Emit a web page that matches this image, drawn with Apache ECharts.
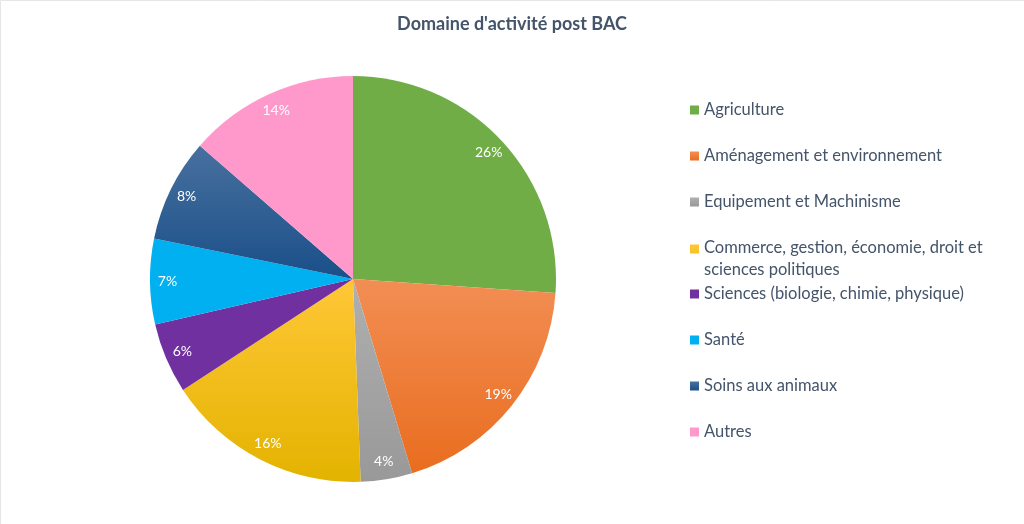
<!DOCTYPE html>
<html>
<head>
<meta charset="utf-8">
<script src="https://cdn.jsdelivr.net/npm/echarts@6/dist/echarts.min.js"></script>
<style>
html,body{margin:0;padding:0;background:#fff;}
#chart{width:1024px;height:524px;}
</style>
</head>
<body>
<div id="chart"></div>
<script>
const titleText = "Domaine d'activité post BAC";
const categories = [
  "Agriculture",
  "Aménagement et environnement",
  "Equipement et Machinisme",
  "Commerce, gestion, économie, droit et\nsciences politiques",
  "Sciences (biologie, chimie, physique)",
  "Santé",
  "Soins aux animaux",
  "Autres"
];
const values = [26.1, 19.2, 4.1, 16.4, 5.6, 6.8, 8.2, 13.6];
const colorTop =    ["#70AD47", "#F28E54", "#AFAFAF", "#FFC737", "#7030A0", "#00B0F0", "#48709E", "#FF99CC"];
const colorBottom = ["#70AD47", "#E96D1F", "#999999", "#E3B300", "#7030A0", "#00B0F0", "#1A4F89", "#FF99CC"];

const chart = echarts.init(document.getElementById('chart'), null, {renderer: 'canvas'});
const total = values.reduce((a, b) => a + b, 0);
const font = 'Lato, "Noto Sans", sans-serif';
const textColor = '#44546A';

const data = categories.map((name, i) => ({
  name: name,
  value: values[i],
  itemStyle: {
    color: {
      type: 'linear', x: 0, y: 0, x2: 0, y2: 1,
      colorStops: [{offset: 0, color: colorTop[i]}, {offset: 1, color: colorBottom[i]}]
    }
  }
}));

const legendTops = [110, 156, 202, 248, 294, 340, 386, 432];
const legends = categories.map((name, i) => {
  const twoLine = name.indexOf('\n') >= 0;
  return {
    orient: 'vertical',
    left: 685,
    top: legendTops[i] - 16,
    data: [name],
    itemWidth: 9,
    itemHeight: twoLine ? 32 : 9,
    icon: twoLine ? 'path://M0 0H10V10H0Z M0 32H0.01V32.01H0Z' : 'rect',
    itemGap: 0,
    selectedMode: false,
    textStyle: {
      color: textColor,
      fontFamily: font,
      fontSize: 16.5,
      lineHeight: 22
    }
  };
});

const option = {
  animation: false,
  backgroundColor: '#fff',
  title: {
    text: titleText,
    left: 'center',
    top: 10,
    textStyle: {color: textColor, fontFamily: font, fontSize: 18, fontWeight: 'bold'}
  },
  legend: legends,
  graphic: [{
    type: 'rect', shape: {x: 0.5, y: 0.5, width: 1100, height: 600},
    style: {fill: 'none', stroke: '#e6e6e6', lineWidth: 1}, silent: true
  }],
  series: [
    {
      type: 'pie',
      center: [353, 279],
      radius: 203,
      startAngle: 90,
      clockwise: true,
      label: {show: false},
      labelLine: {show: false},
      emphasis: {disabled: true},
      itemStyle: {borderWidth: 0},
      data: data
    },
    {
      type: 'pie',
      center: [353, 279],
      radius: [162, 203],
      startAngle: 90,
      clockwise: true,
      silent: true,
      z: 3,
      itemStyle: {color: 'rgba(0,0,0,0)', borderWidth: 0},
      emphasis: {disabled: true},
      labelLine: {show: false},
      label: {
        show: true,
        position: 'inside',
        color: '#fff',
        fontFamily: font,
        fontSize: 14,
        formatter: p => Math.round(p.value / total * 100) + '%'
      },
      data: categories.map((name, i) => ({name: name, value: values[i]}))
    }
  ]
};
chart.setOption(option);
</script>
</body>
</html>
